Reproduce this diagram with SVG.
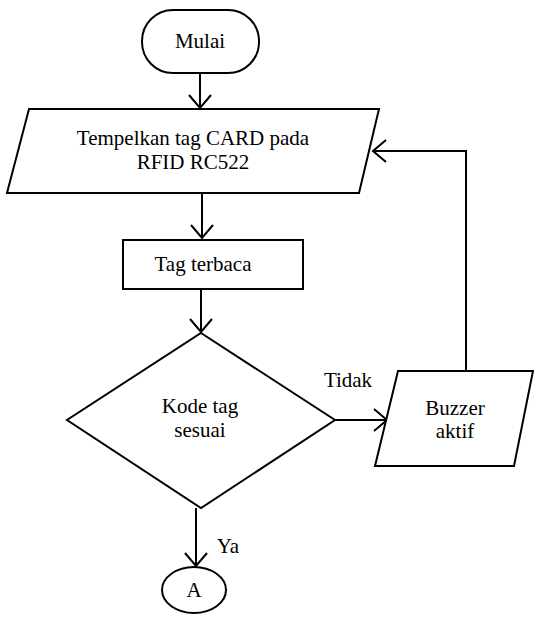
<svg xmlns="http://www.w3.org/2000/svg" width="534" height="624" viewBox="0 0 534 624">
<style>
.s{fill:#fff;stroke:#000;stroke-width:2}
.c{fill:none;stroke:#000;stroke-width:2}
.t{font-family:"Liberation Serif","DejaVu Serif",serif;font-size:21px;fill:#000;text-anchor:middle}
</style>
<defs>
<marker id="ah" markerUnits="userSpaceOnUse" markerWidth="30" markerHeight="30" viewBox="-15 -15 30 30" refX="0" refY="0" orient="auto">
<path d="M-13,-11 L0,0 L-13,11" fill="none" stroke="#000" stroke-width="2"/>
</marker>
</defs>
<rect width="534" height="624" fill="#fff"/>
<g id="connectors">
<path class="c" d="M200,73 V108" marker-end="url(#ah)"/>
<path class="c" d="M202,193 V238" marker-end="url(#ah)"/>
<path class="c" d="M201,289 V332" marker-end="url(#ah)"/>
<path class="c" d="M335,420 H387" marker-end="url(#ah)"/>
<path class="c" d="M466,371 V151 H373" marker-end="url(#ah)"/>
<path class="c" d="M196,508 V566" marker-end="url(#ah)"/>
<text class="t" x="348" y="387">Tidak</text>
<text class="t" x="228" y="553">Ya</text>
</g>
<g id="mulai">
<rect class="s" x="142" y="10" width="117" height="63" rx="31" ry="31"/>
<text class="t" x="200" y="48">Mulai</text>
</g>
<g id="tempelkan">
<polygon class="s" points="29,109 379,109 359,193 7,193"/>
<text class="t" x="193" y="145">Tempelkan tag CARD pada</text>
<text class="t" x="193" y="169">RFID RC522</text>
</g>
<g id="tag-terbaca">
<rect class="s" x="123" y="240" width="180" height="49"/>
<text class="t" x="203" y="271">Tag terbaca</text>
</g>
<g id="kode-tag">
<polygon class="s" points="201,333 335,420 201,508 67,420"/>
<text class="t" x="200" y="413">Kode tag</text>
<text class="t" x="200" y="437">sesuai</text>
</g>
<g id="buzzer">
<polygon class="s" points="398,371 533,371 514,466 375,466"/>
<text class="t" x="455" y="415">Buzzer</text>
<text class="t" x="455" y="438">aktif</text>
</g>
<g id="a">
<ellipse class="s" cx="194" cy="590" rx="32" ry="23"/>
<text class="t" x="194" y="597">A</text>
</g>
</svg>
